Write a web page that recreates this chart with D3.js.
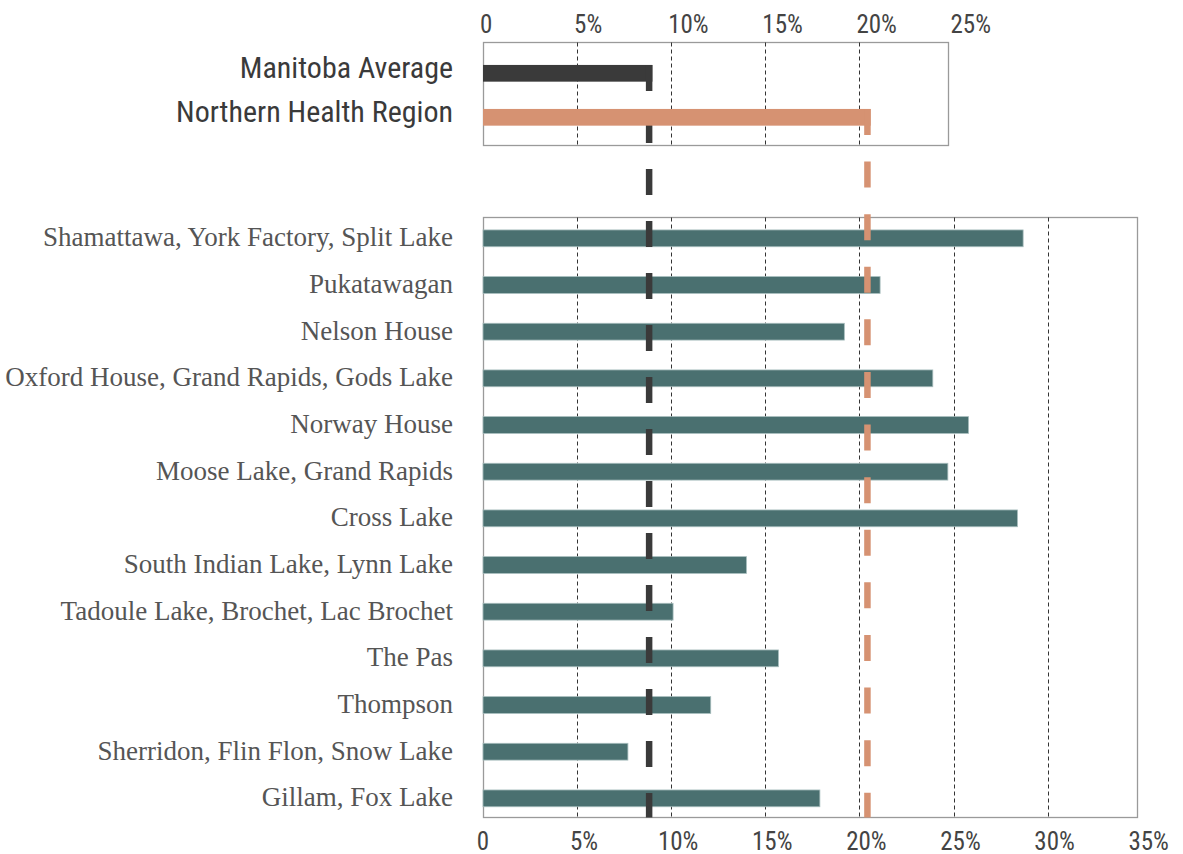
<!DOCTYPE html>
<html>
<head>
<meta charset="utf-8">
<script src="https://cdn.jsdelivr.net/npm/d3@7"></script>
<style>
  body { margin: 0; background: #fff; }
  .cond { font-family: "Liberation Sans Narrow", "Roboto Condensed", "DejaVu Sans Condensed", Roboto, sans-serif; font-stretch: condensed; }
  .serif { font-family: "Liberation Serif", "DejaVu Serif", serif; }
</style>
</head>
<body>
<svg id="chart" width="1183" height="854"></svg>
<script>

// summary rows (top panel)
var summaryNames = ['Manitoba Average', 'Northern Health Region']
var summaryValues = [9.0, 20.6]
var summaryColors = ['#3a3a3a', '#d69272']

// communities (bottom panel)
var communities = [
	'Shamattawa, York Factory, Split Lake',
	'Pukatawagan',
	'Nelson House',
	'Oxford House, Grand Rapids, Gods Lake',
	'Norway House',
	'Moose Lake, Grand Rapids',
	'Cross Lake',
	'South Indian Lake, Lynn Lake',
	'Tadoule Lake, Brochet, Lac Brochet',
	'The Pas',
	'Thompson',
	'Sherridon, Flin Flon, Snow Lake',
	'Gillam, Fox Lake'
]
var communityValues = [28.7, 21.1, 19.2, 23.9, 25.8, 24.7, 28.4, 14.0, 10.1, 15.7, 12.1, 7.7, 17.9]

var topTicks = [0, 5, 10, 15, 20, 25]
var bottomTicks = [0, 5, 10, 15, 20, 25, 30, 35]
var topGrid = [5, 10, 15, 20]
var bottomGrid = [5, 10, 15, 20, 25, 30]

var svg = d3.select('#chart')

var x = d3.scaleLinear().domain([0, 35]).range([483, 1141.7])

var yTop = d3.scaleBand().domain(summaryNames)
	.range([51.3, 139.3]).paddingInner(0.62).paddingOuter(0.31)

var yBot = d3.scaleBand().domain(communities)
	.range([215, 821.7]).paddingInner(0.64).paddingOuter(0.32)

var tickLabel = function(d) { return d == 0 ? '0' : d + '%'; }

// ---- boxes
var topBox = {x0: 483.5, x1: 948.5, y0: 42.5, y1: 145.5}
var botBox = {x0: 483.5, x1: 1137.5, y0: 217.5, y1: 817.5}

svg.append('rect')
	.attr('x', topBox.x0).attr('y', topBox.y0)
	.attr('width', topBox.x1 - topBox.x0).attr('height', topBox.y1 - topBox.y0)
	.attr('fill', 'none').attr('stroke', '#9a9a9a').attr('stroke-width', 1.3)

svg.append('rect')
	.attr('x', botBox.x0).attr('y', botBox.y0)
	.attr('width', botBox.x1 - botBox.x0).attr('height', botBox.y1 - botBox.y0)
	.attr('fill', 'none').attr('stroke', '#9a9a9a').attr('stroke-width', 1.3)

// ---- grid lines
svg.append('g')
	.selectAll('line')
	.data(topGrid)
	.enter()
	.append('line')
	.attr('x1', function(d) { return Math.round(x(d)) + 0.5; })
	.attr('x2', function(d) { return Math.round(x(d)) + 0.5; })
	.attr('y1', topBox.y0).attr('y2', topBox.y1)
	.attr('stroke', '#333').attr('stroke-width', 1)
	.attr('stroke-dasharray', '4,3')

svg.append('g')
	.selectAll('line')
	.data(bottomGrid)
	.enter()
	.append('line')
	.attr('x1', function(d) { return Math.round(x(d)) + 0.5; })
	.attr('x2', function(d) { return Math.round(x(d)) + 0.5; })
	.attr('y1', botBox.y0).attr('y2', botBox.y1)
	.attr('stroke', '#333').attr('stroke-width', 1)
	.attr('stroke-dasharray', '4,3')

// ---- axis labels
svg.append('g')
	.attr('class', 'cond')
	.selectAll('text')
	.data(topTicks)
	.enter()
	.append('text')
	.attr('x', function(d) { return x(d) - 3; })
	.attr('y', 33)
	.attr('text-anchor', 'start')
	.attr('font-size', 25)
	.attr('fill', '#444')
	.text(tickLabel)

svg.append('g')
	.attr('class', 'cond')
	.selectAll('text')
	.data(bottomTicks)
	.enter()
	.append('text')
	.attr('x', function(d) { return d == 0 ? x(d) : x(d) + 7; })
	.attr('y', 850)
	.attr('text-anchor', 'middle')
	.attr('font-size', 25)
	.attr('fill', '#444')
	.text(tickLabel)

// ---- community bars
svg.append('g')
	.selectAll('rect')
	.data(communities)
	.enter()
	.append('rect')
	.attr('x', x(0))
	.attr('y', function(d) { return yBot(d); })
	.attr('width', function(d, i) { return x(communityValues[i]) - x(0); })
	.attr('height', yBot.bandwidth())
	.attr('fill', '#4a7070')
	.attr('stroke', '#a7bdbd').attr('stroke-width', 0.8)

svg.append('g')
	.attr('class', 'serif')
	.selectAll('text')
	.data(communities)
	.enter()
	.append('text')
	.attr('x', 453)
	.attr('y', function(d) { return yBot(d) + yBot.bandwidth() / 2 + 8; })
	.attr('text-anchor', 'end')
	.attr('font-size', 27)
	.attr('fill', '#555')
	.text(function(d) { return d; })

// ---- summary labels
svg.append('g')
	.attr('class', 'cond')
	.selectAll('text')
	.data(summaryNames)
	.enter()
	.append('text')
	.attr('x', 453)
	.attr('y', function(d) { return yTop(d) + yTop.bandwidth() / 2 + 5; })
	.attr('text-anchor', 'end')
	.attr('font-size', 30)
	.attr('fill', '#3a3a3a')
	.text(function(d) { return d; })

// ---- summary bars and reference lines
var lineW = 6.5
var dashes = ['26,26', '26,26.6']

function drawSummary(i) {
	var name = summaryNames[i]
	svg.append('rect')
		.attr('x', x(0))
		.attr('y', yTop(name))
		.attr('width', x(summaryValues[i]) - x(0))
		.attr('height', yTop.bandwidth())
		.attr('fill', summaryColors[i])
}

function drawRefLine(i) {
	var name = summaryNames[i]
	var lx = x(summaryValues[i]) - lineW / 2
	svg.append('line')
		.attr('x1', lx).attr('x2', lx)
		.attr('y1', yTop(name))
		.attr('y2', botBox.y1)
		.attr('stroke', summaryColors[i])
		.attr('stroke-width', lineW)
		.attr('stroke-dasharray', dashes[i])
}

drawSummary(0)
drawRefLine(0)
drawSummary(1)
drawRefLine(1)

</script>
</body>
</html>
